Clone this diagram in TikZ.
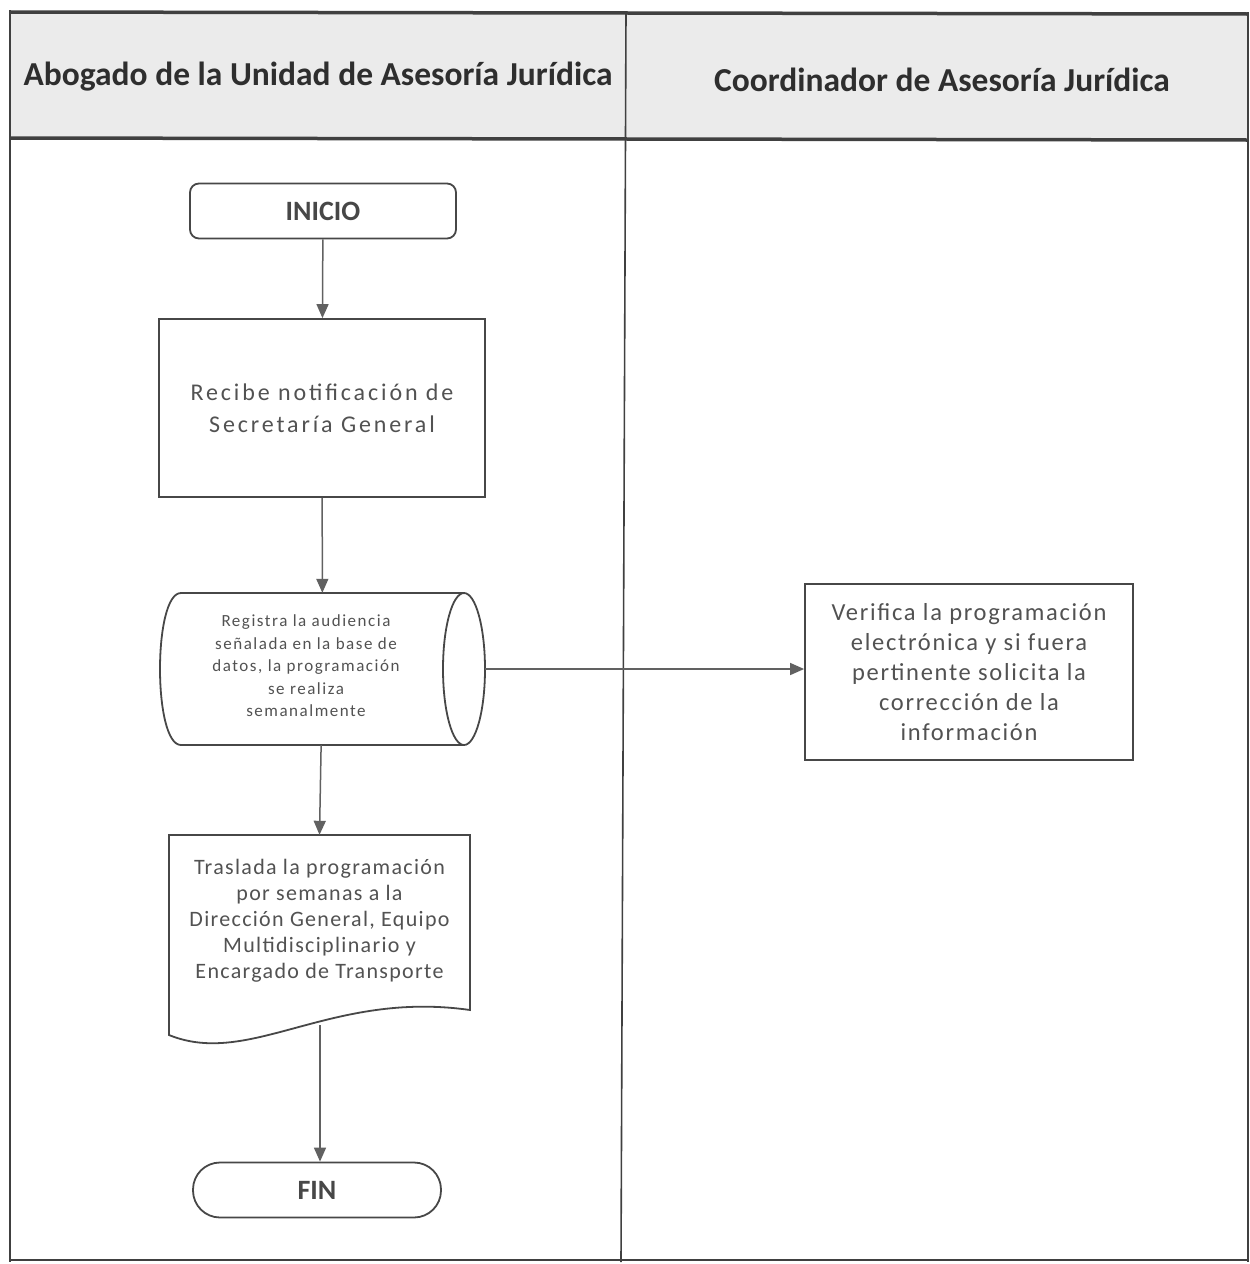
\documentclass[tikz,border=0pt]{standalone}
\usepackage{fontspec}
\setmainfont{Carlito}
\usetikzlibrary{arrows.meta}

\newcommand{\spaced}[3]{\fontsize{#1}{#2}\selectfont\addfontfeatures{LetterSpace=#3}}

\begin{document}
\begin{tikzpicture}[x=1pt,y=-1pt,
  frame/.style={draw=black!75,line width=1.6pt},
  thick frame/.style={draw=black!75,line width=3.5pt},
  outline/.style={draw=black!72,line width=1.8pt},
  flow/.style={draw=black!62,line width=1.5pt,-{Triangle[width=12pt,length=14pt]}},
  lanehead/.style={text=black!82,font=\bfseries\fontsize{33.5}{38}\selectfont},
  terminal/.style={outline,fill=white,text=black!72,font=\bfseries\fontsize{28}{32}\selectfont},
  process/.style={outline,fill=white,text=black!68,align=center},
  plain/.style={text=black!68,align=center}]
\useasboundingbox (0,0) rectangle (1250,1264);
\fill[white] (0,0) rectangle (1250,1264);

% swimlane header band
\fill[black!8] (10,12) rectangle (1248,138);
\node[lanehead] (laneA) at (318,77) {Abogado de la Unidad de Asesoría Jurídica};
\node[lanehead] (laneB) at (942,80) {Coordinador de Asesoría Jurídica};

% lane frame
\draw[thick frame] (10,12) -- (1248,14);
\draw[thick frame] (10,138) -- (1248,140);
\draw[frame] (10,10) -- (10,1262);
\draw[frame] (1248,12) -- (1248,1262);
\draw[frame] (626,12) -- (621,1262);
\draw[frame] (10,1260) -- (1248,1260);

% start
\node[terminal,rounded corners=9pt,minimum width=266pt,minimum height=55pt] (inicio) at (323,211) {INICIO};

% notification received
\node[process,minimum width=326pt,minimum height=178pt,
      font=\spaced{24}{32}{12}] (recibe) at (322,408)
  {Recibe notificación de\\Secretaría General};

% database (cylinder) step
\node[minimum width=325pt,minimum height=152pt] (db) at (322.5,669) {};
\draw[outline,fill=white] (181,593) -- (464,593) -- (464,745) -- (181,745)
  .. controls (153,745) and (153,593) .. (181,593) -- cycle;
\draw[outline,fill=white] (464,669) ellipse[x radius=21,y radius=76];
\node[plain,font=\spaced{17}{22.5}{9}] (dbtxt) at (306,666)
  {Registra la audiencia\\señalada en la base de\\datos, la programación\\se realiza\\semanalmente};

% verification
\node[process,minimum width=328pt,minimum height=176pt,
      font=\spaced{24.5}{30}{7}] (verifica) at (969,672)
  {Verifica la programación\\electrónica y si fuera\\pertinente solicita la\\corrección de la\\información};

% document step
\node[minimum width=301pt,minimum height=172pt] (doc) at (319.5,921) {};
\draw[outline,fill=white] (169,835) -- (470,835) -- (470,1010)
  .. controls (330,990) and (250,1068) .. (169,1035) -- cycle;
\node[plain,font=\spaced{22}{26}{6}] (doctxt) at (319.5,921)
  {Traslada la programación\\por semanas a la\\Dirección General, Equipo\\Multidisciplinario y\\Encargado de Transporte};
\coordinate (docout) at (320,1025);

% end
\node[terminal,rounded corners=27pt,minimum width=248pt,minimum height=55pt] (fin) at (317,1190) {FIN};

% connectors
\draw[flow] (inicio) -- (recibe);
\draw[flow] (recibe) -- (db);
\draw[flow] (db.east) -- (db.east -| verifica.west);
\draw[flow] (db) -- (doc.north);
\draw[flow] (docout) -- (docout |- fin.north);
\end{tikzpicture}
\end{document}
